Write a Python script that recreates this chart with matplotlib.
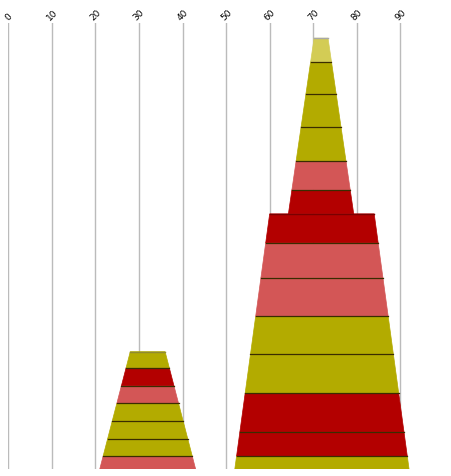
import matplotlib
matplotlib.use('Agg')
import matplotlib.pyplot as plt
from matplotlib.patches import Polygon

# Stack values (bottom to top)
left_values = [2.9, 3.8, 4.0, 4.0, 4.0, 4.0, 3.6]
left_colors = ['pink', 'olive', 'olive', 'olive', 'pink', 'red', 'olive']

right_low_values = [2.9, 5.4, 8.7, 8.7, 8.5, 8.7, 7.8, 6.5]
right_low_colors = ['olive', 'red', 'red', 'olive', 'olive', 'pink', 'pink', 'red']

right_up_values = [5.4, 6.5, 7.6, 7.4, 7.2, 5.3]
right_up_colors = ['red', 'pink', 'olive', 'olive', 'olive', 'light']

x_ticks = [0, 10, 20, 30, 40, 50, 60, 70, 80, 90]

palette = {
    'olive': '#b3ab00',
    'red': '#b30000',
    'pink': '#d35656',
    'light': '#d3cc55',
}


def draw_cone(ax, center, base, values, colors, w_bottom, w_top, top_edge):
    # draws a stack of trapezoids whose width tapers linearly with height
    total = sum(values)
    def half(y):
        return w_bottom + (w_top - w_bottom) * (y - base) / total
    y0 = base
    for v, c in zip(values, colors):
        y1 = y0 + v
        pts = [(center - half(y0), y0), (center + half(y0), y0),
               (center + half(y1), y1), (center - half(y1), y1)]
        ax.add_patch(Polygon(pts, closed=True, facecolor=palette[c],
                             edgecolor=palette[c], linewidth=0.5, zorder=3))
        y0 = y1
    # separators between segments
    y0 = base
    for i, v in enumerate(values):
        if i > 0:
            ax.plot([center - half(y0), center + half(y0)], [y0, y0],
                    color='#3a2c00', linewidth=0.9, zorder=4)
        y0 += v
    ax.plot([center - half(y0), center + half(y0)], [y0, y0],
            color=top_edge, linewidth=1, zorder=4)
    return y0


fig = plt.figure(figsize=(4.52, 4.77), dpi=100)
ax = fig.add_axes([8.3 / 452, 7 / 477, 435.6 / 452, 446 / 477])

draw_cone(ax, 32, 0, left_values, left_colors, 11, 4, '#8f8a30')
top = draw_cone(ax, 72, 0, right_low_values, right_low_colors, 20, 12, '#7a0000')
draw_cone(ax, 71.8, top, right_up_values, right_up_colors, 7.5, 1.6, '#a8a8a8')

ax.set_xlim(0, 100)
ax.set_ylim(0, 100)
ax.set_xticks(x_ticks)
ax.xaxis.tick_top()
ax.tick_params(axis='x', length=0, labelsize=6.5, labelrotation=45, pad=1)
ax.set_yticks([])
for lbl in ax.get_xticklabels():
    lbl.set_horizontalalignment('center')
for x in x_ticks:
    ax.axvline(x, color='#bbbbbb', linewidth=1, zorder=1)
for s in ax.spines.values():
    s.set_visible(False)

plt.savefig('out.png', dpi=100)
